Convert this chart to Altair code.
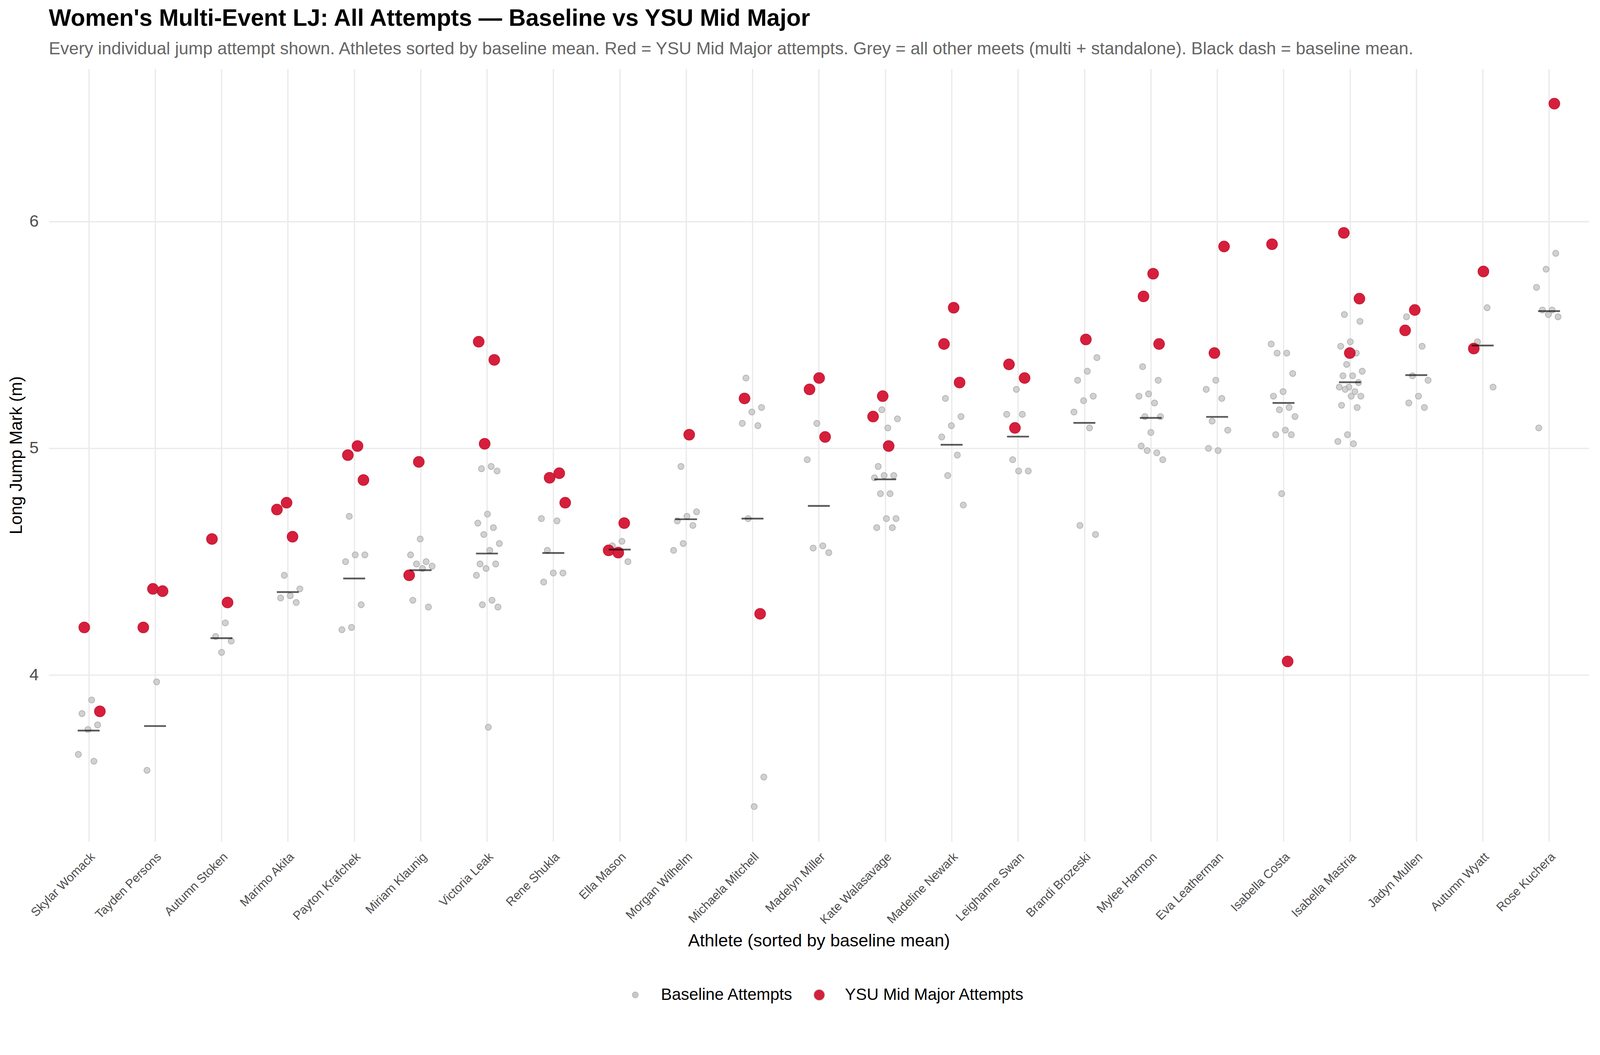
import json
import altair as alt
import pandas as pd

# ---------------- data ----------------
athletes = [
    "Skylar Womack", "Tayden Persons", "Autumn Stoken", "Marimo Akita",
    "Payton Krafchek", "Miriam Klaunig", "Victoria Leak", "Rene Shukla",
    "Ella Mason", "Morgan Wilhelm", "Michaela Mitchell", "Madelyn Miller",
    "Kate Walasavage", "Madeline Newark", "Leighanne Swan", "Brandi Brozeski",
    "Mylee Harmon", "Eva Leatherman", "Isabella Costa", "Isabella Mastria",
    "Jadyn Mullen", "Autumn Wyatt", "Rose Kuchera",
]

baseline_marks = [
    [3.89, 3.83, 3.78, 3.76, 3.65, 3.62],
    [3.97, 3.58],
    [4.23, 4.17, 4.15, 4.10],
    [4.44, 4.38, 4.35, 4.34, 4.32],
    [4.70, 4.53, 4.53, 4.50, 4.31, 4.21, 4.20],
    [4.60, 4.53, 4.50, 4.49, 4.48, 4.47, 4.33, 4.30],
    [4.92, 4.91, 4.90, 4.71, 4.67, 4.65, 4.62, 4.58, 4.55, 4.49, 4.49, 4.47,
     4.44, 4.33, 4.31, 4.30, 3.77],
    [4.69, 4.68, 4.55, 4.45, 4.45, 4.41],
    [4.59, 4.57, 4.50],
    [4.92, 4.72, 4.70, 4.68, 4.66, 4.58, 4.55],
    [5.31, 5.18, 5.16, 5.11, 5.10, 4.69, 3.55, 3.42],
    [5.11, 4.95, 4.57, 4.56, 4.54],
    [5.17, 5.13, 5.09, 4.92, 4.88, 4.88, 4.87, 4.80, 4.80, 4.69, 4.69, 4.65, 4.65],
    [5.22, 5.14, 5.10, 5.05, 4.97, 4.88, 4.75],
    [5.26, 5.15, 5.15, 4.95, 4.90, 4.90],
    [5.40, 5.34, 5.30, 5.23, 5.21, 5.16, 5.09, 4.66, 4.62],
    [5.36, 5.30, 5.24, 5.23, 5.20, 5.14, 5.14, 5.07, 5.01, 4.98, 4.99, 4.95],
    [5.30, 5.26, 5.22, 5.12, 5.08, 4.99, 5.00],
    [5.46, 5.42, 5.42, 5.33, 5.25, 5.23, 5.18, 5.17, 5.14, 5.08, 5.06, 5.06, 4.80],
    [5.59, 5.56, 5.47, 5.45, 5.42, 5.37, 5.34, 5.32, 5.32, 5.29, 5.27, 5.27,
     5.25, 5.26, 5.23, 5.23, 5.19, 5.18, 5.06, 5.03, 5.02],
    [5.58, 5.45, 5.32, 5.30, 5.23, 5.20, 5.18],
    [5.62, 5.47, 5.27],
    [5.86, 5.79, 5.71, 5.61, 5.61, 5.58, 5.59, 5.09],
]

ysu_marks = [
    [4.21, 3.84],
    [4.37, 4.38, 4.21],
    [4.60, 4.32],
    [4.76, 4.73, 4.61],
    [5.01, 4.97, 4.86],
    [4.94, 4.44],
    [5.47, 5.39, 5.02],
    [4.89, 4.87, 4.76],
    [4.54, 4.55, 4.67],
    [5.06],
    [5.22, 4.27],
    [5.31, 5.26, 5.05],
    [5.23, 5.14, 5.01],
    [5.62, 5.46, 5.29],
    [5.37, 5.31, 5.09],
    [5.48],
    [5.77, 5.67, 5.46],
    [5.89, 5.42],
    [5.90, 4.06],
    [5.95, 5.66, 5.42],
    [5.61, 5.52],
    [5.78, 5.44],
    [6.52],
]

BASE = "Baseline Attempts"
YSU = "YSU Mid Major Attempts"

# ---------------- tables ----------------
PHI = 0.6180339887
rows = []
k = 0
for i, name in enumerate(athletes):
    for kind, vals in ((BASE, baseline_marks[i]), (YSU, ysu_marks[i])):
        for v in vals:
            k += 1
            jit = ((k * PHI) % 1.0 - 0.5) * 0.38  # deterministic horizontal jitter
            rows.append({"athlete": name, "idx": i, "mark": v, "kind": kind,
                         "xpos": i + jit})
pts = pd.DataFrame(rows)

means = pd.DataFrame({
    "athlete": athletes,
    "idx": list(range(len(athletes))),
    "mean": [sum(b) / len(b) for b in baseline_marks],
})

# ---------------- scales / axes ----------------
FONT = "Liberation Sans"
x_scale = alt.Scale(domain=[-0.6, len(athletes) - 0.4], nice=False, zero=False)
y_scale = alt.Scale(domain=[3.266, 6.674], nice=False, zero=False)

x_axis = alt.Axis(
    values=list(range(len(athletes))),
    labelExpr=json.dumps(athletes) + "[datum.value]",
    title="Athlete (sorted by baseline mean)",
    labelAngle=315, labelAlign="right", labelBaseline="top",
    labelPadding=24, labelFontSize=32, labelColor="#4d4d4d", labelLimit=0,
    labelOverlap=False, labelFlush=False, labelBound=False,
    titleFontSize=46, titleFontWeight="normal", titleColor="#000000",
    titleY=275, titleBaseline="alphabetic",
    grid=True,
)
y_axis = alt.Axis(
    values=[4, 5, 6], format="d",
    title="Long Jump Mark (m)",
    labelFontSize=44, labelPadding=27, labelColor="#4d4d4d",
    titleFontSize=45, titleFontWeight="normal", titleColor="#000000",
    titleAngle=270, titleX=-71, titleBaseline="alphabetic",
    grid=True,
)

legend = alt.Legend(
    title=None, orient="none", legendX=1518, legendY=2409,
    direction="horizontal", symbolType="circle",
    labelFontSize=43, labelFont=FONT, labelColor="#000000", labelLimit=0,
    labelOffset=46, columnPadding=47,
    symbolStrokeColor="#b0b0b0", symbolStrokeWidth=1.5,
)
color = alt.Color("kind:N", scale=alt.Scale(domain=[BASE, YSU],
                                            range=["#c6c6c6", "#d41432"]),
                  legend=legend)
size = alt.Size("kind:N", scale=alt.Scale(domain=[BASE, YSU], range=[250, 800]),
                legend=legend)

grey = alt.Chart(pts).transform_filter(alt.datum.kind == BASE).mark_circle(
    stroke="#a8a8a8", strokeWidth=2, fillOpacity=0.8, strokeOpacity=0.8
).encode(
    x=alt.X("xpos:Q", scale=x_scale, axis=x_axis),
    y=alt.Y("mark:Q", scale=y_scale, axis=y_axis),
    color=color, size=size,
)

red = alt.Chart(pts).transform_filter(alt.datum.kind == YSU).mark_circle(
    stroke="#c2102c", strokeWidth=2, opacity=0.95
).encode(
    x=alt.X("xpos:Q", scale=x_scale, axis=x_axis),
    y=alt.Y("mark:Q", scale=y_scale, axis=y_axis),
    color=color, size=size,
)

dash = alt.Chart(means).transform_calculate(
    x_lo="datum.idx - 0.165", x_hi="datum.idx + 0.165"
).mark_rule(color="#000000", opacity=0.65, strokeWidth=4.5).encode(
    x=alt.X("x_lo:Q", scale=x_scale, axis=x_axis),
    x2="x_hi:Q",
    y=alt.Y("mean:Q", scale=y_scale, axis=y_axis),
)

chart = alt.layer(grey, red, dash).properties(
    width=4043, height=2028,
    autosize=alt.AutoSizeParams(type="none"),
    padding={"left": 120, "top": 138, "right": 21, "bottom": 518},
    title=alt.TitleParams(
        text="Women's Multi-Event LJ: All Attempts \u2014 Baseline vs YSU Mid Major",
        subtitle="Every individual jump attempt shown. Athletes sorted by baseline mean. "
                 "Red = YSU Mid Major attempts. Grey = all other meets (multi + standalone). "
                 "Black dash = baseline mean.",
        anchor="start", frame="group",
        font=FONT, fontSize=62, fontWeight="bold", color="#000000",
        subtitleFont=FONT, subtitleFontSize=45.5, subtitleColor="#666666",
        offset=27, subtitlePadding=26,
    ),
).configure(
    font=FONT, background="white",
).configure_view(
    stroke=None,
).configure_axis(
    domain=False, ticks=False, gridColor="#ebebeb", gridWidth=3.5,
    labelFont=FONT, titleFont=FONT,
)

chart.save("out.html", embed_options={"renderer": "svg", "actions": False})
